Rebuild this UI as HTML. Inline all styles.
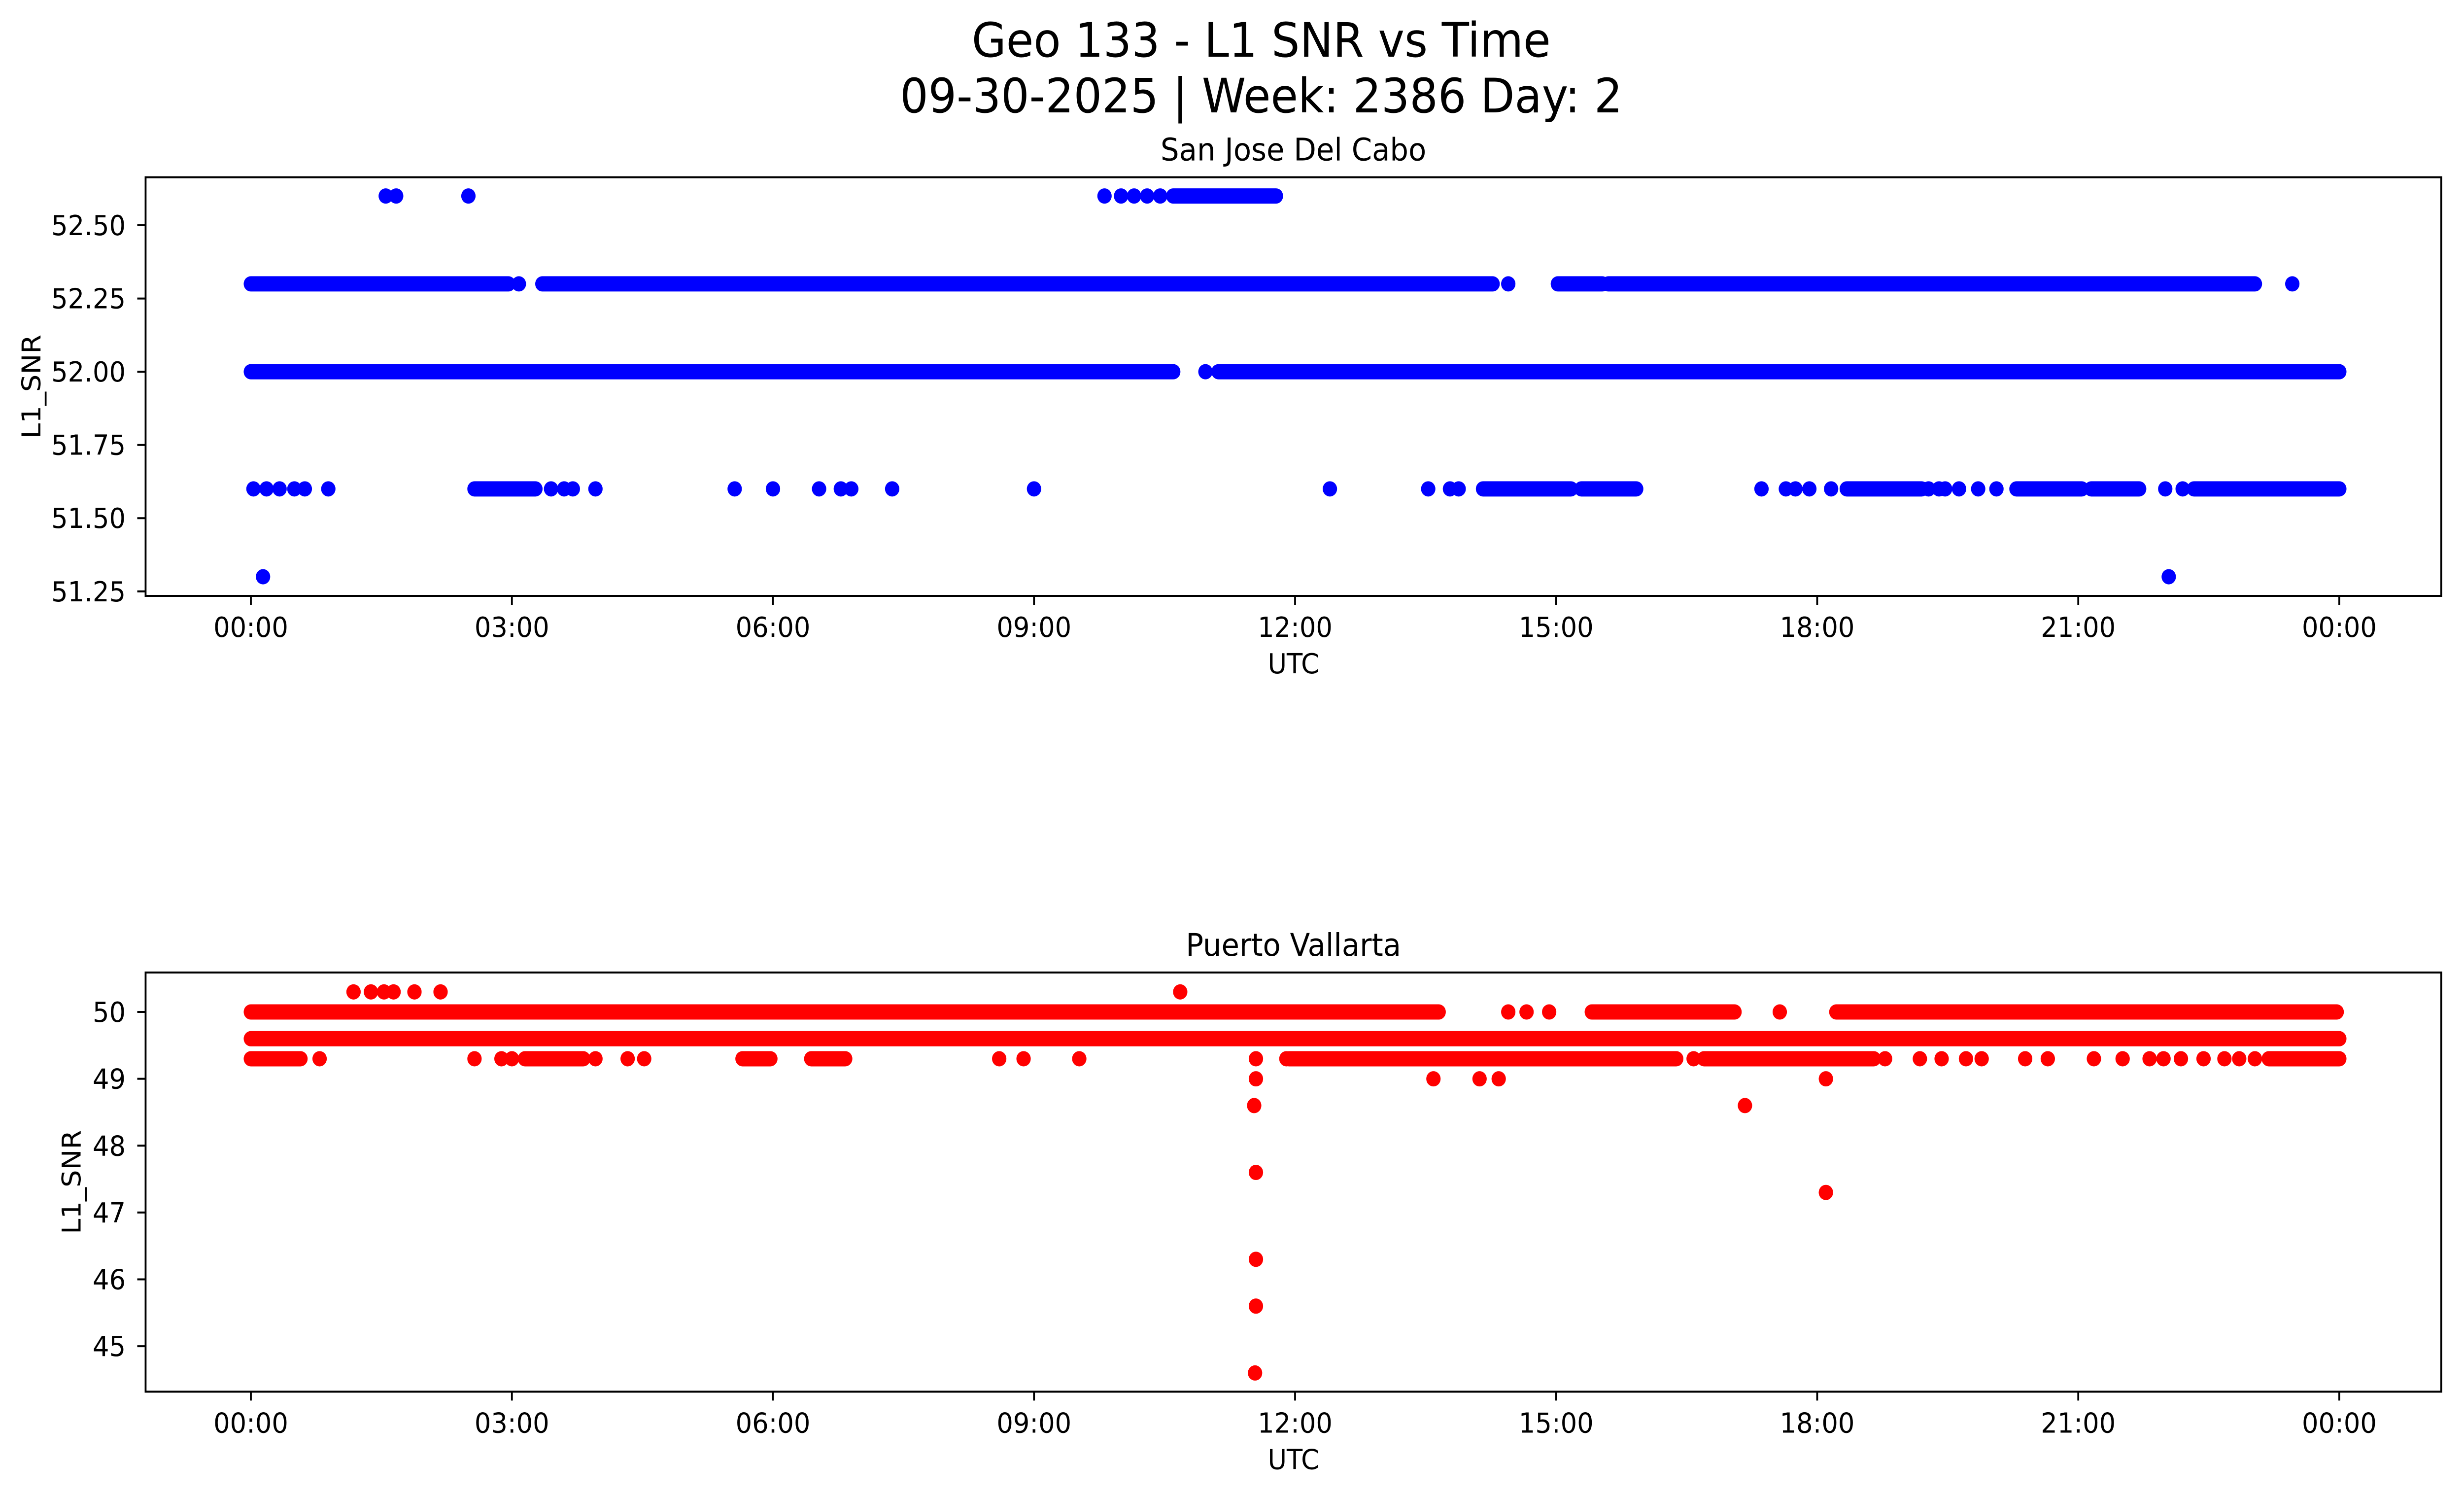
<!DOCTYPE html>
<html><head><meta charset="utf-8"><style>
html,body{margin:0;padding:0;background:#fff;width:100%;height:100%;overflow:hidden}
svg{display:block;position:absolute;left:0;top:0;width:100vw;height:100vh}
text{font-family:"DejaVu Sans","Liberation Sans",sans-serif;fill:#000}
</style></head><body>
<svg id="fig" xmlns="http://www.w3.org/2000/svg" viewBox="0 0 5314 3033" preserveAspectRatio="none">
<rect width="5314" height="3033" fill="#fff"/>
<text x="2720" y="115" font-size="96" text-anchor="middle">Geo 133 - L1 SNR vs Time</text>
<text x="2720" y="228" font-size="96" text-anchor="middle">09-30-2025 | Week: 2386 Day: 2</text>
<g id="top"></g>
<g id="bot"></g>
</svg>
<script>
// x-axis ticks (hours) and labels
const xTickHours = [0,3,6,9,12,15,18,21,24];
const xTickLabels = ["00:00","03:00","06:00","09:00","12:00","15:00","18:00","21:00","00:00"];

// San Jose Del Cabo: continuous runs [level, startHour, endHour]
const sjRunLevels = [52.6, 52.3, 52.3, 52.3, 52.3, 52.0, 52.0, 51.6, 51.6, 51.6, 51.6, 51.6, 51.6, 51.6];
const sjRunStarts = [10.6, 0.0, 3.35, 15.02, 15.6, 0.0, 11.12, 2.57, 14.16, 15.29, 18.34, 20.29, 21.15, 22.33];
const sjRunEnds   = [11.78, 2.96, 14.27, 15.53, 23.03, 10.6, 24.0, 3.27, 15.17, 15.92, 19.2, 21.04, 21.7, 24.0];
// San Jose Del Cabo: individual points
const sjPtHours  = [1.55,1.67,2.5,9.81,10.0,10.15,10.3,10.45, 3.08,14.45,23.46, 10.97,
  0.03,0.18,0.33,0.5,0.62,0.89,3.45,3.6,3.7,3.96,5.56,6.0,6.53,6.78,6.9,7.37,9.0,12.4,13.53,13.78,13.88,17.36,17.64,17.75,17.91,18.16,19.28,19.4,19.47,19.63,19.85,20.06,22.0,22.2, 0.14,22.04];
const sjPtValues = [52.6,52.6,52.6,52.6,52.6,52.6,52.6,52.6, 52.3,52.3,52.3, 52.0,
  51.6,51.6,51.6,51.6,51.6,51.6,51.6,51.6,51.6,51.6,51.6,51.6,51.6,51.6,51.6,51.6,51.6,51.6,51.6,51.6,51.6,51.6,51.6,51.6,51.6,51.6,51.6,51.6,51.6,51.6,51.6,51.6,51.6,51.6, 51.3,51.3];

// Puerto Vallarta: continuous runs
const pvRunLevels = [50.0, 50.0, 50.0, 49.6, 49.3, 49.3, 49.3, 49.3, 49.3, 49.3, 49.3];
const pvRunStarts = [0.0, 15.41, 18.22, 0.0, 0.0, 3.15, 5.65, 6.44, 11.93, 16.7, 23.19];
const pvRunEnds   = [13.65, 17.05, 23.97, 24.0, 0.57, 3.82, 5.97, 6.83, 16.38, 18.65, 24.0];
// Puerto Vallarta: individual points
const pvPtHours  = [1.18,1.38,1.53,1.64,1.88,2.18,10.68, 14.45,14.66,14.92,17.57,
  0.79,2.57,2.88,3.0,3.96,4.33,4.52,8.6,8.88,9.52,11.55,11.9,16.58,18.78,19.18,19.43,19.71,19.89,20.39,20.65,21.18,21.51,21.82,21.98,22.18,22.44,22.68,22.85,23.03,
  11.55,13.59,14.12,14.34,18.1, 11.53,17.17, 11.55, 18.1, 11.55, 11.55, 11.54];
const pvPtValues = [50.3,50.3,50.3,50.3,50.3,50.3,50.3, 50.0,50.0,50.0,50.0,
  49.3,49.3,49.3,49.3,49.3,49.3,49.3,49.3,49.3,49.3,49.3,49.3,49.3,49.3,49.3,49.3,49.3,49.3,49.3,49.3,49.3,49.3,49.3,49.3,49.3,49.3,49.3,49.3,49.3,
  49.0,49.0,49.0,49.0,49.0, 48.6,48.6, 47.6, 47.3, 46.3, 45.6, 44.6];

const topYTicks = [51.25,51.5,51.75,52.0,52.25,52.5];
const botYTicks = [45,46,47,48,49,50];

const NS = "http://www.w3.org/2000/svg";
function mk(tag, attrs, parent){const e=document.createElementNS(NS,tag);for(const k in attrs)e.setAttribute(k,attrs[k]);parent.appendChild(e);return e;}

const AX_L = 314, AX_R = 5265;
const X_MIN = -1.2096, X_MAX = 25.172;
function xScale(h){return AX_L + (h - X_MIN)/(X_MAX - X_MIN)*(AX_R - AX_L);}

function panel(g, cfg){
  const yScale = v => cfg.top + (cfg.yMax - v)/(cfg.yMax - cfg.yMin)*(cfg.bottom - cfg.top);
  const R = 15.5;
  for(let i=0;i<cfg.runLevels.length;i++){
    const y = yScale(cfg.runLevels[i]);
    const ln = mk("line",{x1:xScale(cfg.runStarts[i]),x2:xScale(cfg.runEnds[i]),y1:y,y2:y,stroke:cfg.color,"stroke-width":2*R,"stroke-linecap":"round"},g);
    
    
  }
  for(let i=0;i<cfg.ptHours.length;i++){
    const c = mk("circle",{cx:xScale(cfg.ptHours[i]),cy:yScale(cfg.ptValues[i]),r:R,fill:cfg.color},g);
    
    
  }
  const fr = mk("rect",{x:AX_L,y:cfg.top,width:AX_R-AX_L,height:cfg.bottom-cfg.top,fill:"none",stroke:"#000","stroke-width":4},g);
  
  
  for(let i=0;i<xTickHours.length;i++){
    const x = xScale(xTickHours[i]);
    const t = mk("line",{x1:x,x2:x,y1:cfg.bottom,y2:cfg.bottom+18,stroke:"#000","stroke-width":4},g);
    
    
    const tl = mk("text",{x:x,y:cfg.bottom+83,"font-size":56,"text-anchor":"middle"},g);
    tl.textContent = xTickLabels[i];
    
    
  }
  for(const v of cfg.yTicks){
    const y = yScale(v);
    const t = mk("line",{x1:AX_L-18,x2:AX_L,y1:y,y2:y,stroke:"#000","stroke-width":4},g);
    
    
    const tl = mk("text",{x:271,y:y+20,"font-size":56,"text-anchor":"end"},g);
    tl.textContent = v.toFixed(cfg.dec);
    
    
  }
  const xl = mk("text",{x:(AX_L+AX_R)/2,y:cfg.bottom+157,"font-size":56,"text-anchor":"middle"},g);
  xl.textContent = "UTC";
  
  
  const cy = (cfg.top+cfg.bottom)/2;
  const yl = mk("text",{x:cfg.ylx,y:cy,"font-size":56,"text-anchor":"middle",transform:`rotate(-90 ${cfg.ylx} ${cy})`},g);
  yl.textContent = "L1_SNR";
  
  
  const st = mk("text",{x:(AX_L+AX_R)/2,y:cfg.top-34,"font-size":63,"text-anchor":"middle"},g);
  st.textContent = cfg.title;
  
  
}

panel(document.getElementById("top"),{top:359.6,bottom:1209,yMax:52.664,yMin:51.2345,color:"#0000ff",
  runLevels:sjRunLevels,runStarts:sjRunStarts,runEnds:sjRunEnds,ptHours:sjPtHours,ptValues:sjPtValues,
  yTicks:topYTicks,dec:2,ylx:87,title:"San Jose Del Cabo"});
panel(document.getElementById("bot"),{top:1973,bottom:2823.4,yMax:50.59,yMin:44.32,color:"#ff0000",
  runLevels:pvRunLevels,runStarts:pvRunStarts,runEnds:pvRunEnds,ptHours:pvPtHours,ptValues:pvPtValues,
  yTicks:botYTicks,dec:0,ylx:174,title:"Puerto Vallarta"});
</script>
</body></html>
